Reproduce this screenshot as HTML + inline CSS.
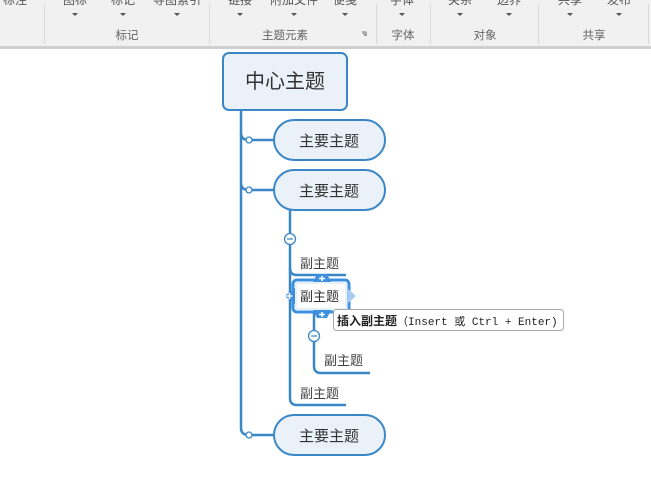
<!DOCTYPE html>
<html><head><meta charset="utf-8"><style>
html,body{margin:0;padding:0;background:#fff;}
svg{display:block;font-family:"Liberation Sans","Noto Sans CJK SC",sans-serif;}
</style></head><body>
<svg width="651" height="493" viewBox="0 0 651 493" xmlns="http://www.w3.org/2000/svg">
<rect x="0" y="0" width="651" height="47" fill="#f1f1f1"/>
<rect x="0" y="46" width="651" height="3" fill="#cfcfcf"/>
<g fill="#555" font-size="12" text-anchor="middle">
<text x="15" y="4">标注</text><text x="75" y="4">图标</text><text x="123" y="4">标记</text><text x="177" y="4">导图索引</text>
<text x="240" y="4">链接</text><text x="294" y="4">附加文件</text><text x="345" y="4">便笺</text><text x="402" y="4">字体</text>
<text x="460" y="4">关系</text><text x="509" y="4">边界</text><text x="570" y="4">共享</text><text x="619" y="4">发布</text>
</g>
<g fill="#555">
<path d="M72 13h6l-3 3z"/><path d="M120 13h6l-3 3z"/><path d="M174 13h6l-3 3z"/><path d="M237 13h6l-3 3z"/><path d="M291 13h6l-3 3z"/><path d="M342 13h6l-3 3z"/><path d="M399 13h6l-3 3z"/><path d="M457 13h6l-3 3z"/><path d="M506 13h6l-3 3z"/><path d="M567 13h6l-3 3z"/><path d="M616 13h6l-3 3z"/>
</g>
<g fill="#666" font-size="11.5" text-anchor="middle">
<text x="127" y="39">标记</text><text x="285" y="39">主题元素</text><text x="403" y="39">字体</text><text x="485" y="39">对象</text><text x="594" y="39">共享</text>
</g>
<path d="M362 32h4v4M363 33l3 3" stroke="#777" fill="none" stroke-width="1"/>
<g stroke="#d8d8d8" stroke-width="1"><path d="M44.5 4V44M209.5 4V44M376.5 4V44M430.5 4V44M538.5 4V44M648.5 4V44"/></g>

<g stroke="#3a87c8" stroke-width="2.5" fill="none">
<path d="M241 110V428q0 7 8 7"/>
<path d="M241 133q0 7 8 7h25"/>
<path d="M241 183q0 7 8 7h25"/>
<path d="M249 435h25"/>
<path d="M290 210V398q0 7 7 7h49"/>
<path d="M290 268q0 7 7 7h49"/>
<path d="M314 312V366q0 7 7 7h49"/>
</g>
<g fill="#fff" stroke="#3a87c8" stroke-width="1.3">
<circle cx="249" cy="140" r="3"/><circle cx="249" cy="190" r="3"/><circle cx="249" cy="435" r="3"/>
</g>
<rect x="223" y="53" width="124" height="57" rx="6" fill="#eaf1f8" stroke="#3a87c8" stroke-width="2"/>
<text x="285" y="88" font-size="20" fill="#333" text-anchor="middle">中心主题</text>
<g fill="#eaf1f8" stroke="#3a87c8" stroke-width="2">
<rect x="274" y="120" width="111" height="40" rx="20"/>
<rect x="274" y="170" width="111" height="40" rx="20"/>
<rect x="274" y="415" width="111" height="40" rx="20"/>
</g>
<g font-size="15" fill="#333" text-anchor="middle">
<text x="329" y="146">主要主题</text><text x="329" y="196">主要主题</text><text x="329" y="441">主要主题</text>
</g>
<g fill="#fff" stroke="#3a87c8" stroke-width="1.3">
<circle cx="290" cy="239" r="5.5"/><circle cx="314" cy="336" r="5.5"/>
</g>
<path d="M287 239h6M311 336h6" stroke="#3a87c8" stroke-width="1.3"/>
<g font-size="13" fill="#444">
<text x="300" y="268">副主题</text><text x="324" y="365">副主题</text><text x="300" y="398">副主题</text>
</g>
<!-- selected -->
<rect x="293" y="280" width="56" height="32" rx="4" fill="#fff" stroke="#3d90e0" stroke-width="3"/>
<rect x="296" y="283" width="50" height="26" rx="2" fill="none" stroke="#cfe3f6" stroke-width="1"/>
<g fill="#3d90e0">
<path d="M313 282l4-8h10l4 8z"/>
<path d="M313 310l4 8h10l4-8z"/>
<path d="M295 288l-9 7v2l9 7z"/>
</g>
<path d="M348 289l7 6v2l-7 6z" fill="#a8cdf0"/>
<g stroke="#fff" stroke-width="1.6"><path d="M319 278.5h6M322 276v5M319 314.5h6M322 312v5M286.5 296h6M289.5 293v6"/></g>
<text x="300" y="301" font-size="13" fill="#333">副主题</text>
<rect x="333.5" y="309.5" width="230" height="21" rx="3" fill="#fff" stroke="#aaa" stroke-width="1"/>
<text x="337" y="325" font-size="12" fill="#222"><tspan font-weight="bold">插入副主题</tspan><tspan font-family="Liberation Mono,Noto Sans CJK SC,monospace" font-size="11">（Insert 或 Ctrl + Enter)</tspan></text>
</svg>
</body></html>
